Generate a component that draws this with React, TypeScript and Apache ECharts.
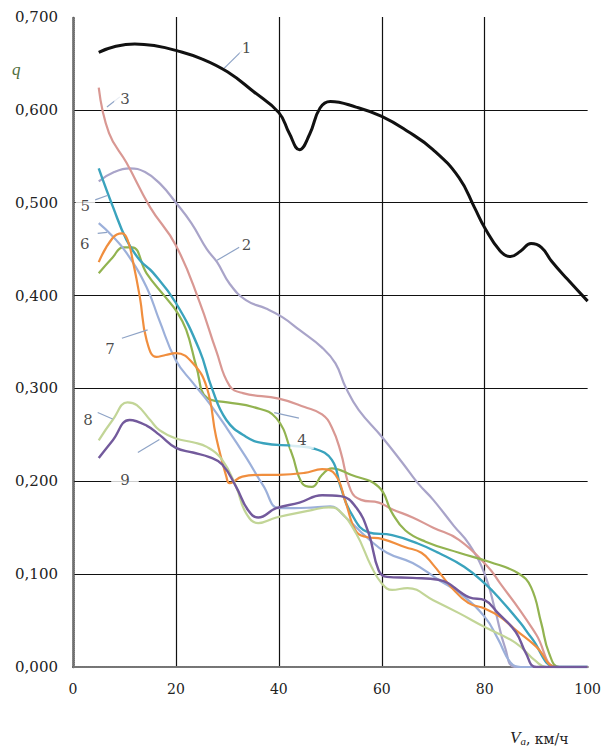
import React, { useEffect, useRef } from "react";
import * as echarts from "echarts";

// ---- data (v in km/h, q) ----
const xTickValues = [0, 20, 40, 60, 80, 100];
const yTickValues = [0, 0.1, 0.2, 0.3, 0.4, 0.5, 0.6, 0.7];

const curve1 = [[5,0.662],[8,0.668],[12,0.671],[16,0.669],[20,0.664],[25,0.655],[30,0.641],[35,0.62],[40,0.597],[42,0.575],[44,0.557],[46,0.574],[48,0.602],[50,0.609],[55,0.603],[60,0.593],[65,0.577],[70,0.557],[75,0.527],[78,0.495],[80,0.473],[83,0.448],[85,0.442],[87,0.448],[89,0.456],[91,0.452],[93,0.437],[96,0.418],[100,0.394]];
const curve2 = [[5,0.523],[8,0.533],[11,0.537],[14,0.533],[17,0.52],[20,0.5],[23,0.478],[26,0.45],[28,0.436],[30.4,0.413],[33.6,0.395],[37.5,0.386],[40.6,0.377],[44,0.363],[48.4,0.344],[51,0.327],[53,0.301],[55.5,0.277],[60,0.248],[64,0.22],[67,0.198],[70,0.18],[74,0.152],[77,0.132],[80,0.1],[82,0.062],[84,0.02],[86,0],[100,0]];
const curve3 = [[5,0.624],[7,0.575],[10.4,0.543],[15,0.495],[20,0.454],[24.6,0.393],[27.8,0.341],[30.4,0.303],[33,0.295],[40,0.289],[45,0.28],[48.4,0.272],[50.3,0.258],[52,0.232],[54,0.19],[56,0.18],[59.4,0.177],[62,0.17],[66,0.161],[70,0.15],[75,0.137],[80.6,0.108],[83,0.09],[87,0.06],[90,0.035],[94,0],[100,0]];
const curve4 = [[5,0.424],[7.7,0.441],[9.7,0.452],[11.5,0.452],[14.3,0.424],[18,0.398],[20,0.384],[22,0.363],[24,0.323],[26,0.29],[30,0.285],[35,0.28],[39.5,0.268],[42.5,0.23],[44.5,0.198],[46.4,0.194],[48.4,0.207],[50.3,0.214],[54,0.207],[59.4,0.194],[62,0.166],[64.6,0.147],[68.5,0.135],[75,0.123],[81,0.113],[86.5,0.101],[89,0.086],[91,0.047],[92.5,0.015],[94.5,0],[100,0]];
const curve5 = [[5,0.537],[7.8,0.495],[10.4,0.46],[13,0.438],[15.5,0.425],[20,0.392],[24.6,0.341],[27,0.3],[29.8,0.266],[33.6,0.248],[37,0.241],[43,0.238],[47,0.235],[50.3,0.223],[52,0.194],[54,0.166],[57.4,0.145],[62,0.142],[67,0.133],[71,0.123],[76,0.108],[80,0.09],[83,0.073],[87,0.047],[89,0.032],[94,0],[100,0]];
const curve6 = [[5,0.478],[7.5,0.465],[10.4,0.446],[14.3,0.409],[16.8,0.373],[20,0.33],[23.3,0.306],[26.5,0.284],[29.8,0.258],[33.6,0.226],[37,0.195],[40,0.171],[43,0.171],[47,0.172],[50,0.173],[53,0.161],[57,0.14],[61,0.123],[66,0.112],[71,0.094],[75,0.08],[80,0.054],[82.6,0.03],[85,0.005],[87,0],[100,0]];
const curve7 = [[5,0.436],[7.7,0.462],[9.5,0.467],[10.6,0.46],[11.6,0.438],[13,0.398],[14.3,0.352],[16.2,0.334],[18,0.336],[20,0.338],[23.3,0.327],[26,0.301],[27.8,0.248],[29.8,0.205],[30.4,0.198],[32.9,0.205],[36.8,0.207],[40,0.207],[45,0.209],[48.4,0.213],[51,0.207],[53,0.177],[55,0.146],[57,0.14],[60,0.138],[64.6,0.129],[67.7,0.123],[70,0.11],[73.5,0.086],[76.8,0.069],[80,0.063],[83,0.054],[86,0.04],[90,0.022],[94,0],[100,0]];
const curve8 = [[5,0.244],[7.7,0.266],[10.6,0.285],[12.4,0.282],[15,0.266],[16.8,0.255],[20,0.246],[23.3,0.242],[26,0.237],[29,0.223],[31.7,0.194],[33.6,0.166],[36,0.155],[39.5,0.161],[46.4,0.169],[49.7,0.172],[51.6,0.169],[55,0.144],[58,0.108],[60,0.09],[62,0.083],[65,0.085],[70,0.072],[75,0.058],[80,0.043],[86,0.026],[90,0.006],[92,0],[100,0]];
const curve9 = [[5,0.225],[7.7,0.244],[11,0.266],[14.3,0.26],[16.8,0.25],[20,0.236],[23.3,0.231],[26.5,0.226],[29,0.218],[31.7,0.194],[34,0.169],[36,0.161],[39.5,0.171],[44,0.177],[48.4,0.185],[52,0.184],[55,0.172],[57.4,0.145],[59.4,0.104],[61,0.097],[66,0.096],[71,0.094],[77,0.075],[80,0.072],[82.6,0.058],[86,0.038],[88,0.015],[90,0],[100,0]];

const seriesNames = ["1", "2", "3", "4", "5", "6", "7", "8", "9"];
const curves = [curve1, curve2, curve3, curve4, curve5, curve6, curve7, curve8, curve9];

// curve number labels, anchored in data coordinates [v, q]
const labelTexts = ["1", "2", "3", "4", "5", "6", "7", "8", "9"];
const labelAnchors = [[33.7,0.667],[33.7,0.454],[10.1,0.612],[44.5,0.244],[2.4,0.497],[2.3,0.456],[7.2,0.343],[2.9,0.266],[10.1,0.201]];
// leader lines: [v0, q0, v1, q1]
const leaderLines = [[29.4,0.645,32.9,0.664],[28,0.438,32.3,0.452],[6.6,0.603,9.1,0.614],[39.1,0.274,43.9,0.268],[4.3,0.503,6.8,0.508],[4.8,0.467,6.6,0.468],[9.5,0.354,14.5,0.363],[4.8,0.274,7.7,0.267],[12.6,0.231,16.8,0.245]];

const colors = ["#111111", "#a9a4c9", "#d99893", "#92b350", "#3aa3bd", "#9cb0da", "#f08e3e", "#c2d597", "#735a9c"];
const widths = [3, 2.2, 2.2, 2.2, 2.4, 2.2, 2.2, 2.2, 2.4];
const labelPads = [[0,2],[0,2],[1,6],[1,7],[1,5],[0,2],[0,2],[0,2],[1,9]];

const serif = "'Liberation Serif', 'DejaVu Serif', serif";
const wideSerif = "'DejaVu Serif', 'Liberation Serif', serif";

export default function App() {
  const ref = useRef<HTMLDivElement>(null);
  useEffect(() => {
    document.body.style.margin = "0";
    if (!ref.current) return;
    const chart = echarts.init(ref.current, null, { renderer: "svg" });
    const dotted = (color: string, width: number) => ({ show: true, lineStyle: { color, width, type: [1, 1] as any } });
    const option: any = {
      animation: false,
      backgroundColor: "#ffffff",
      grid: { left: 73, right: 14, top: 17, bottom: 82 },
      xAxis: [
        {
          type: "value", min: xTickValues[0], max: xTickValues[xTickValues.length - 1], interval: 20,
          axisLine: dotted("#444", 2), axisTick: { show: false },
          axisLabel: { fontFamily: wideSerif, fontSize: 14, color: "#222", margin: 15 },
          splitLine: { show: true, lineStyle: { color: xTickValues.map((v, i) => (i === 0 || i === xTickValues.length - 1 ? "rgba(0,0,0,0)" : "#111")), width: 1.2 } },
        },
        {
          type: "value", position: "top", min: 0, max: 100, interval: 20,
          axisLine: dotted("#888", 1.5), axisTick: { show: false }, axisLabel: { show: false }, splitLine: { show: false },
        },
      ],
      yAxis: [
        {
          type: "value", min: yTickValues[0], max: yTickValues[yTickValues.length - 1], interval: 0.1,
          axisLine: dotted("#444", 2.5), axisTick: { show: false },
          axisLabel: { fontFamily: wideSerif, fontSize: 15, color: "#222", margin: 15, formatter: (v: number) => v.toFixed(3).replace(".", ",") },
          splitLine: { show: true, lineStyle: { color: yTickValues.map((v, i) => (i === 0 || i === yTickValues.length - 1 ? "rgba(0,0,0,0)" : "#111")), width: 1.2 } },
        },
        {
          type: "value", position: "right", min: 0, max: 0.7, interval: 0.1,
          axisLine: dotted("#888", 1.5), axisTick: { show: false }, axisLabel: { show: false }, splitLine: { show: false },
        },
      ],
      series: [
        ...curves.map((c, i) => ({
          name: seriesNames[i], type: "line", data: c, smooth: 0.45, symbol: "none",
          lineStyle: { color: colors[i], width: widths[i] }, z: i === 0 ? 5 : 3,
        })),
        {
          type: "scatter", symbolSize: 1, itemStyle: { color: "rgba(0,0,0,0)" }, z: 10,
          data: labelTexts.map((t, i) => ({
            name: t, value: labelAnchors[i],
            label: { padding: labelPads[i] },
          })),
          label: {
            show: true, position: "inside", formatter: (p: any) => p.name,
            fontFamily: wideSerif, fontSize: 15, color: "#1a1a1a", backgroundColor: "#ffffff",
          },
          markLine: {
            silent: true, symbol: "none", label: { show: false },
            lineStyle: { color: "#8ea3c6", width: 1.2, type: "solid" },
            data: leaderLines.map((l) => [{ coord: [l[0], l[1]] }, { coord: [l[2], l[3]] }]),
          },
        },
      ],
      graphic: [
        {
          type: "text", left: 12, top: 61,
          style: { text: "q", fontFamily: serif, fontStyle: "italic", fontSize: 17, fill: "#4f6e3c" },
        },
        {
          type: "text", left: 510, top: 729,
          style: {
            text: "{v|V}{s|a}{n|, км/ч}",
            rich: {
              v: { fontFamily: serif, fontStyle: "italic", fontSize: 17, fill: "#222", verticalAlign: "bottom", lineHeight: 20 },
              s: { fontFamily: serif, fontStyle: "italic", fontSize: 11, fill: "#222", verticalAlign: "bottom", lineHeight: 15 },
              n: { fontFamily: wideSerif, fontSize: 14, fill: "#222", verticalAlign: "bottom", lineHeight: 20 },
            },
          },
        },
      ],
    };
    chart.setOption(option);
    return () => chart.dispose();
  }, []);
  return <div ref={ref} style={{ width: 604, height: 749 }} />;
}
